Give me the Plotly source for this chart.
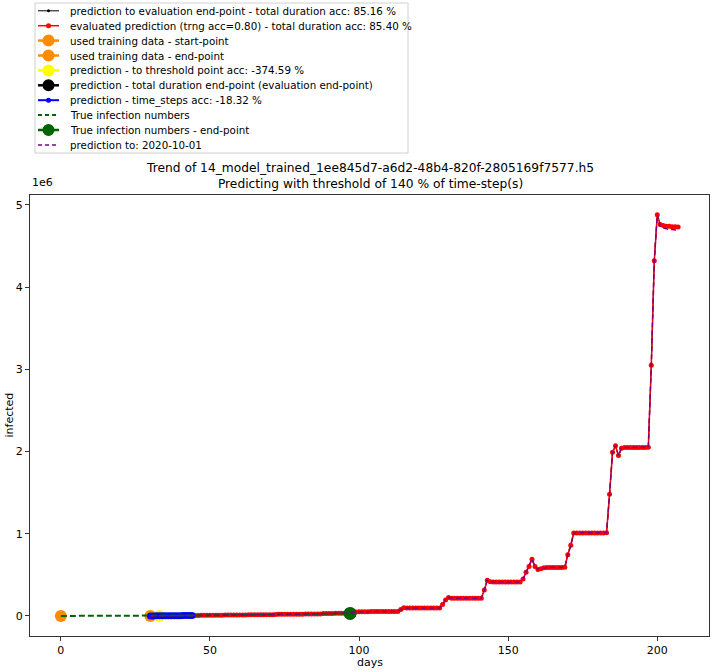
import plotly.graph_objects as go

# ---------------- data ----------------
pred_days = list(range(30, 208))
# evaluated prediction (infected), thousands, one value per day 30..207
eval_pred_k = [
    0, 0, 1, 1, 1, 2, 2, 2, 3, 3, 3, 4, 4, 5,                    # 30-43
    6, 6, 6, 7, 7, 7, 8, 8,                                      # 44-51
    9, 9, 9, 10, 10, 10, 11, 11,                                 # 52-59
    12, 12, 12, 13, 13, 13, 14, 14, 14, 15, 15, 15, 16,          # 60-72
    20, 20, 20, 21, 21, 21, 22, 22, 22, 23, 23, 23, 24, 24, 24,  # 73-87
    30, 30, 31, 31, 32, 32, 33, 33, 34,                          # 88-96
    35, 42, 48,                                                  # 97-99
    52, 52, 52, 52, 53, 53, 53, 53, 54, 54, 54, 54, 55, 55,      # 100-113
    78, 100, 98, 97, 97, 97, 97, 97, 97, 97, 98, 98, 98, 98,     # 114-127
    140, 195, 225, 215, 215, 215, 215, 215, 215, 215, 215, 215, 215, 216,  # 128-141
    315, 435, 415, 412, 412, 412, 412, 412, 412, 412, 413, 413, 414,       # 142-154
    450, 530, 600, 690, 600, 565, 575, 585, 590, 590, 590, 590, 590, 590, 592,  # 155-169
    745, 860, 1010, 1010, 1010, 1010, 1010, 1010, 1010, 1010, 1010, 1010, 1010, 1012,  # 170-183
    1480, 1990, 2070, 1950, 2040, 2050, 2050, 2050, 2050, 2050, 2050, 2050, 2050, 2052,  # 184-197
    3050, 4320, 4880, 4760, 4750, 4740, 4740, 4735, 4735, 4730,  # 198-207
]
pred_to_eval_k = list(eval_pred_k)
pred_to_date_k = eval_pred_k[:-7] + [4740, 4720, 4710, 4700, 4700, 4695, 4690]

time_steps_days = list(range(30, 45))
true_days = [0, 10, 20, 30, 40, 50, 60, 70, 80, 90, 97]
true_k = [0, 0, 0, 1, 3, 7, 12, 16, 21, 27, 30]

train_start = (0, 0)
train_end = (30, 0)
threshold_pt = (33, 0)
total_end_pt = (97, 30)
true_end_pt = (97, 30)

legend_labels = [
    "prediction to evaluation end-point - total duration acc: 85.16 %",
    "evaluated prediction (trng acc=0.80) - total duration acc: 85.40 %",
    "used training data - start-point",
    "used training data - end-point",
    "prediction - to threshold point acc: -374.59 %",
    "prediction - total duration end-point (evaluation end-point)",
    "prediction - time_steps acc: -18.32 %",
    "True infection numbers",
    "True infection numbers - end-point",
    "prediction to: 2020-10-01",
]
title_lines = ["Trend of 14_model_trained_1ee845d7-a6d2-48b4-820f-2805169f7577.h5",
               "Predicting with threshold of 140 % of time-step(s)"]

K = 1000.0
# styles: color, line width, dash, marker size
styles = [
    dict(color="black", width=1, dash="solid", msize=3),
    dict(color="red", width=1.5, dash="solid", msize=5),
    dict(color="#ff8c00", width=2.5, dash="solid", msize=12),
    dict(color="#ff8c00", width=2.5, dash="solid", msize=12),
    dict(color="#ffff00", width=2.5, dash="solid", msize=12),
    dict(color="black", width=2.5, dash="solid", msize=12),
    dict(color="blue", width=3, dash="solid", msize=7),
    dict(color="#006400", width=2, dash="6px,3px", msize=0),
    dict(color="#006400", width=2.5, dash="solid", msize=13),
    dict(color="#800080", width=1.5, dash="5px,3px", msize=0),
]

series = [
    (pred_days, [v * K for v in pred_to_eval_k], "lines+markers"),
    (pred_days, [v * K for v in eval_pred_k], "lines+markers"),
    ([train_start[0]], [train_start[1] * K], "markers"),
    ([train_end[0]], [train_end[1] * K], "markers"),
    ([threshold_pt[0]], [threshold_pt[1] * K], "markers"),
    ([total_end_pt[0]], [total_end_pt[1] * K], "markers"),
    (time_steps_days, [v * K for v in eval_pred_k[:len(time_steps_days)]], "lines+markers"),
    (true_days, [v * K for v in true_k], "lines"),
    ([true_end_pt[0]], [true_end_pt[1] * K], "markers"),
    (pred_days, [v * K for v in pred_to_date_k], "lines"),
]

fig = go.Figure()
for (xs, ys, mode), st, lab in zip(series, styles, legend_labels):
    tr = dict(x=xs, y=ys, mode=mode, name=lab, showlegend=False,
              line=dict(color=st["color"], width=st["width"], dash=st["dash"]))
    if "markers" in mode:
        tr["marker"] = dict(color=st["color"], size=st["msize"], line=dict(width=0))
    fig.add_trace(go.Scatter(**tr))

# ---------------- layout ----------------
W, H = 714, 672
ML, MR, MT, MB = 30, 5, 195, 36
PW, PH = W - ML - MR, H - MT - MB


def px_x(p):
    return (p - ML) / PW


def px_y(p):
    return (H - MB - p) / PH


font = "DejaVu Sans"
shapes = []
annotations = []

# legend box
shapes.append(dict(type="rect", xref="paper", yref="paper",
                   x0=px_x(35), x1=px_x(408), y0=px_y(153), y1=px_y(3),
                   line=dict(color="#d0d0d0", width=1), fillcolor="white", layer="above"))
row0, row_h = 10.8, 14.9
for i, (st, lab) in enumerate(zip(styles, legend_labels)):
    yc = px_y(row0 + row_h * i)
    big = st["msize"] >= 10
    dash = st["dash"] if st["dash"] == "solid" else "4px,3px"
    shapes.append(dict(type="line", xref="paper", yref="paper",
                       x0=px_x(38), x1=px_x(59), y0=yc, y1=yc, layer="above",
                       line=dict(color=st["color"], width=2.5 if big else min(st["width"], 2),
                                 dash=dash)))
    if st["msize"] > 0:
        r = 6 if big else min(st["msize"], 5) / 2
        shapes.append(dict(type="circle", xref="paper", yref="paper",
                           xsizemode="pixel", ysizemode="pixel",
                           xanchor=px_x(48.5), yanchor=yc,
                           x0=-r, x1=r, y0=-r, y1=r, layer="above",
                           fillcolor=st["color"], line=dict(width=0)))
    annotations.append(dict(text=lab, xref="paper", yref="paper", x=px_x(68), y=yc,
                            xanchor="left", yanchor="middle", showarrow=False,
                            font=dict(family=font, size=10.3, color="black")))

annotations.append(dict(text="<br>".join(title_lines), xref="paper", yref="paper",
                        x=0.5, y=1, xanchor="center", yanchor="bottom", yshift=2,
                        showarrow=False, font=dict(family=font, size=12.25, color="black")))
annotations.append(dict(text="1e6", xref="paper", yref="paper", x=0, y=1,
                        xanchor="left", yanchor="bottom", yshift=4, showarrow=False,
                        font=dict(family=font, size=11, color="black")))
annotations.append(dict(text="days", xref="paper", yref="paper", x=0.5, y=px_y(662),
                        xanchor="center", yanchor="middle", showarrow=False,
                        font=dict(family=font, size=11, color="black")))
annotations.append(dict(text="infected", xref="paper", yref="paper", x=px_x(9), y=0.5,
                        xanchor="center", yanchor="middle", showarrow=False, textangle=-90,
                        font=dict(family=font, size=11, color="black")))

fig.update_layout(
    width=W, height=H,
    margin=dict(l=ML, r=MR, t=MT, b=MB),
    paper_bgcolor="white", plot_bgcolor="white",
    font=dict(family=font, size=11, color="black"),
    shapes=shapes, annotations=annotations,
    xaxis=dict(range=[-10.35, 217.35], tickvals=[0, 50, 100, 150, 200],
               showgrid=False, zeroline=False, showline=True, mirror=True,
               linecolor="#333333", linewidth=1, ticks="outside", ticklen=4,
               tickcolor="#333333", automargin=False),
    yaxis=dict(range=[-0.244e6, 5.12e6], tickvals=[0, 1e6, 2e6, 3e6, 4e6, 5e6],
               ticktext=["0", "1", "2", "3", "4", "5"],
               showgrid=False, zeroline=False, showline=True, mirror=True,
               linecolor="#333333", linewidth=1, ticks="outside", ticklen=4,
               tickcolor="#333333", automargin=False),
)

fig.write_html("out.html", config={"displayModeBar": False},
               post_script="document.body.style.margin='0';")
